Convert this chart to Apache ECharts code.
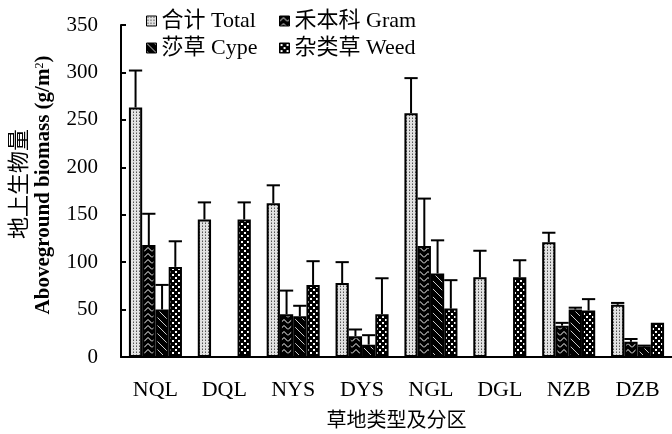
<!DOCTYPE html>
<html>
<head>
<meta charset="utf-8">
<script src="https://cdn.jsdelivr.net/npm/echarts@6/dist/echarts.min.js"></script>
<style>
  html, body { margin: 0; padding: 0; background: #fff; }
  #chart { width: 672px; height: 434px; }
</style>
</head>
<body>
<div id="chart"></div>
<script>
// Grassland types and zones
const categories = ['NQL', 'DQL', 'NYS', 'DYS', 'NGL', 'DGL', 'NZB', 'DZB'];
const seriesNames = ['合计 Total', '禾本科 Gram', '莎草 Cype', '杂类草 Weed'];
const yTicks = [0, 50, 100, 150, 200, 250, 300, 350];

// Aboveground biomass means (g/m2) and standard errors
const totalVals = [263, 145, 162, 78, 257, 84, 121, 55];
const totalErr  = [39, 18, 19, 22, 37, 28, 10, 2];
const gramVals  = [118, 0, 45, 22, 117, 0, 33, 16];
const gramErr   = [33, 0, 25, 7, 50, 0, 3, 3];
const cypeVals  = [50, 0, 43, 13, 88, 0, 50, 11];
const cypeErr   = [26, 0, 11, 10, 35, 0, 2, 1];
const weedVals  = [95, 145, 76, 45, 51, 84, 49, 36];
const weedErr   = [27, 18, 25, 38, 30, 18, 12, 0];

const valueSets = [totalVals, gramVals, cypeVals, weedVals];
const errorSets = [totalErr, gramErr, cypeErr, weedErr];

const SERIF = "'Liberation Serif', 'Noto Sans CJK SC', serif";
const CJK = "'Noto Sans CJK SC', sans-serif";
const CAT_GAP = 0.23;

// Hatch fills for the four series
function tile(w, h, draw) {
  const c = document.createElement('canvas');
  c.width = w; c.height = h;
  const ctx = c.getContext('2d');
  draw(ctx);
  return { image: c, repeat: 'repeat' };
}
const patterns = [
  tile(3, 3, ctx => {            // fine stipple
    ctx.fillStyle = '#e2e2e2'; ctx.fillRect(0, 0, 3, 3);
    ctx.fillStyle = '#555'; ctx.fillRect(1, 1, 1, 1);
    ctx.fillStyle = '#999'; ctx.fillRect(1, 0, 1, 1);
  }),
  tile(8, 6, ctx => {            // dark with chevrons
    ctx.fillStyle = '#000'; ctx.fillRect(0, 0, 8, 6);
    ctx.strokeStyle = '#fff'; ctx.lineWidth = 1;
    ctx.beginPath(); ctx.moveTo(0, 5.5); ctx.lineTo(4, 1.5); ctx.lineTo(8, 5.5); ctx.stroke();
  }),
  tile(8, 8, ctx => {            // dark with diagonals
    ctx.fillStyle = '#000'; ctx.fillRect(0, 0, 8, 8);
    ctx.strokeStyle = '#fff'; ctx.lineWidth = 0.8;
    ctx.beginPath(); ctx.moveTo(0, 0); ctx.lineTo(8, 8); ctx.stroke();
  }),
  tile(6, 6, ctx => {            // checker dots
    ctx.fillStyle = '#000'; ctx.fillRect(0, 0, 6, 6);
    ctx.fillStyle = '#fff';
    ctx.fillRect(1, 1, 2, 2); ctx.fillRect(4, 4, 2, 2);
  })
];

const barSeries = seriesNames.map((name, k) => ({
  name: name,
  type: 'bar',
  barGap: '0%',
  barCategoryGap: (CAT_GAP * 100) + '%',
  data: valueSets[k],
  itemStyle: { color: patterns[k], borderColor: '#000', borderWidth: 2 },
  z: 2
}));

// Upper error whiskers, placed over each bar of the group
function errorSeries(k) {
  return {
    type: 'custom',
    name: seriesNames[k] + ' err',
    data: categories.map((c, i) => [i, valueSets[k][i], errorSets[k][i]]),
    z: 5,
    renderItem: function (params, api) {
      const idx = api.value(0), v = api.value(1), e = api.value(2);
      if (!(e > 0)) return;
      const band = api.size([1, 0])[0];
      const group = band * (1 - CAT_GAP);
      const bw = group / 4;
      const cx = api.coord([idx, 0])[0] - group / 2 + bw * (k + 0.5);
      const yb = api.coord([idx, v])[1];
      const yt = api.coord([idx, v + e])[1];
      const st = { stroke: '#000', lineWidth: 2 };
      return {
        type: 'group',
        children: [
          { type: 'line', shape: { x1: cx, y1: yb, x2: cx, y2: yt }, style: st },
          { type: 'line', shape: { x1: cx - bw / 2, y1: yt, x2: cx + bw / 2, y2: yt }, style: st }
        ]
      };
    }
  };
}

const legendText = { fontFamily: SERIF, fontSize: 22, color: '#000' };
const legendBase = {
  orient: 'vertical',
  top: 5,
  itemWidth: 10,
  itemHeight: 10,
  itemGap: 5,
  icon: 'rect',
  textStyle: legendText,
  itemStyle: { borderColor: '#000', borderWidth: 1 }
};

const chart = echarts.init(document.getElementById('chart'), null, { renderer: 'canvas' });
chart.setOption({
  animation: false,
  backgroundColor: '#fff',
  grid: { left: 121, right: -8, top: 25, bottom: 77, containLabel: false },
  legend: [
    Object.assign({}, legendBase, { left: 141, data: [seriesNames[0], seriesNames[2]] }),
    Object.assign({}, legendBase, { left: 274, data: [seriesNames[1], seriesNames[3]] })
  ],
  xAxis: {
    type: 'category',
    data: categories,
    axisLine: { lineStyle: { color: '#000', width: 2 } },
    axisTick: { inside: true, length: 6, lineStyle: { color: '#000', width: 2 } },
    axisLabel: { fontFamily: SERIF, fontSize: 22, color: '#000', margin: 22 },
    name: '草地类型及分区',
    nameLocation: 'middle',
    nameGap: 52,
    nameTextStyle: { fontFamily: CJK, fontSize: 20, color: '#000' }
  },
  yAxis: {
    type: 'value',
    min: yTicks[0],
    max: yTicks[yTicks.length - 1],
    interval: yTicks[1] - yTicks[0],
    splitLine: { show: false },
    axisLine: { show: true, lineStyle: { color: '#000', width: 2 } },
    axisTick: { show: true, inside: true, length: 5, lineStyle: { color: '#000', width: 2 } },
    axisLabel: { fontFamily: SERIF, fontSize: 21, color: '#000', margin: 23 }
  },
  graphic: [
    {
      type: 'text',
      x: 18, y: 184,
      rotation: Math.PI / 2,
      style: {
        text: '地上生物量',
        font: "22px 'Noto Sans CJK SC', sans-serif",
        fill: '#000',
        align: 'center',
        verticalAlign: 'middle'
      }
    },
    {
      type: 'text',
      x: 44, y: 185,
      rotation: Math.PI / 2,
      style: {
        text: '{a|Aboveground biomass (g/m}{s|2}{a|)}',
        align: 'center',
        verticalAlign: 'middle',
        rich: {
          a: { fontFamily: SERIF, fontSize: 21, fontWeight: 'bold', fill: '#000', color: '#000' },
          s: { fontFamily: SERIF, fontSize: 12, fill: '#000', color: '#000', verticalAlign: 'top', padding: [0, 0, 9, 0] }
        }
      }
    }
  ],
  series: barSeries.concat([0, 1, 2, 3].map(errorSeries))
});
</script>
</body>
</html>
